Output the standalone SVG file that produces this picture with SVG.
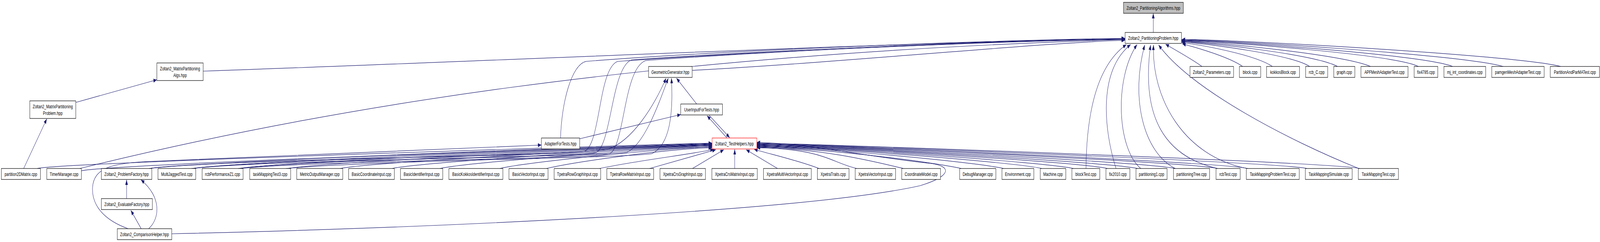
<svg xmlns="http://www.w3.org/2000/svg" width="6017" height="619" viewBox="0 0 6017 619" preserveAspectRatio="none" style="width:100%;height:100%">
<style>
.n rect{fill:#fff;stroke:#000;stroke-width:1.2}
.n text{font-family:"Liberation Sans",Arial,Helvetica,sans-serif;font-size:13px;text-anchor:middle;fill:#000}
.e path{fill:none;stroke:#191970;stroke-width:1.2;marker-end:url(#a)}
</style>
<defs>
<marker id="a" markerWidth="13" markerHeight="10" refX="13" refY="5" orient="auto" markerUnits="userSpaceOnUse"><path d="M0,0 L13,5 L0,10 z" fill="#191970"/></marker>
</defs>
<rect width="6017" height="619" fill="#fff"/>
<g id="edges" class="e">
<path d="M4337,83 L4337,34"/>
<path d="M764,182 C1800,158 3200,112 4231,99"/>
<path d="M285,262 L590,204"/>
<path d="M89,431 L176,304"/>
<path d="M300,431 C1200,280 2400,140 4231,101"/>
<path d="M2603,180 C3200,158 3900,110 4231,103"/>
<path d="M2108,353 C2112,260 2150,165 2204,157 C2800,125 3800,102 4231,98"/>
<path d="M560,431 C900,405 2100,400 2199,387 C2260,365 2250,175 2323,157 C2900,130 3800,104 4231,99"/>
<path d="M725,431 C1000,408 2150,405 2242,390 C2300,370 2300,170 2376,153 C2900,128 3800,103 4231,100"/>
<path d="M900,431 C1200,410 2200,408 2294,393 C2350,370 2345,175 2428,155 C2950,128 3800,104 4231,101"/>
<path d="M720,431 C1100,402 2150,398 2285,382 C2380,360 2460,270 2505,200"/>
<path d="M895,431 C1200,405 2250,400 2357,390 C2420,370 2470,280 2513,200"/>
<path d="M1075,431 C1400,410 2350,405 2452,393 C2520,370 2532,290 2525,200"/>
<path d="M2180,355 L2560,293"/>
<path d="M2620,266 L2544,200"/>
<path d="M2734,353 L2659,296"/>
<path d="M2667,295 L2744,352"/>
<path d="M482,585 C400,565 345,530 348,480 C352,430 420,417 560,413 C1200,395 1700,380 2036,371"/>
<path d="M559,585 C600,560 610,505 530,460"/>
<path d="M531,585 L492,538"/>
<path d="M476,508 L476,460"/>
<path d="M646,598 C1500,585 3000,545 3460,475 C3580,450 3580,425 3500,418 C3250,400 3050,368 2846,364"/>
<path d="M140,431 C240,415 2500,369 2678,366"/>
<path d="M306,437 C400,420 2500,370 2678,367"/>
<path d="M565,431 C665,415 2500,371 2678,368"/>
<path d="M730,431 C830,415 2500,372 2678,369"/>
<path d="M905,431 C1005,415 2500,373 2678,370"/>
<path d="M1085,431 C1185,415 2500,374 2678,371"/>
<path d="M1280,431 C1380,415 2500,375 2678,372"/>
<path d="M1475,431 C1575,415 2500,376 2678,373"/>
<path d="M1655,431 C1755,415 2500,378 2678,375"/>
<path d="M1880,431 C1980,415 2500,379 2678,376"/>
<path d="M2055,431 C2155,415 2500,381 2678,378"/>
<path d="M2255,431 C2400,410 2600,395 2684,382"/>
<path d="M2443,431 L2692,383"/>
<path d="M2604,431 L2722,383"/>
<path d="M2763,431 L2763,382"/>
<path d="M2924,431 L2806,383"/>
<path d="M3080,431 C3000,410 2900,395 2836,382"/>
<path d="M3222,431 C3122,415 3100,381 2846,378"/>
<path d="M3397,431 C3297,415 3100,380 2846,377"/>
<path d="M3615,431 C3515,415 3100,379 2846,376"/>
<path d="M3774,431 C3674,415 3100,378 2846,375"/>
<path d="M3918,431 C3818,415 3100,377 2846,374"/>
<path d="M4037,431 C3937,415 3100,376 2846,373"/>
<path d="M4165,431 C4065,415 3100,375 2846,372"/>
<path d="M4278,431 C4178,415 3100,374 2846,371"/>
<path d="M4419,431 C4319,415 3100,373 2846,370"/>
<path d="M4579,431 C4479,415 3100,372 2846,369"/>
<path d="M4693,431 C4593,415 3100,371 2846,368"/>
<path d="M4915,431 C4815,415 3100,370 2846,367"/>
<path d="M5114,431 C5014,415 3100,369 2846,366"/>
<path d="M4084,431 C4086,300 4120,170 4236,114"/>
<path d="M4197,431 C4150,330 4130,180 4252,114"/>
<path d="M4290,431 C4200,380 4190,200 4276,114"/>
<path d="M4420,431 C4300,390 4250,250 4305,115"/>
<path d="M4578,431 C4380,400 4290,300 4327,115"/>
<path d="M4690,431 C4450,400 4330,250 4338,115"/>
<path d="M5110,431 C4850,360 4480,230 4357,115"/>
<path d="M4520,170 C4480,150 4420,128 4383,113"/>
<path d="M4673,170 C4620,145 4500,122 4446,112"/>
<path d="M4785,170 C4720,140 4520,115 4444,109"/>
<path d="M4925,170 C4860,140 4550,113 4444,107"/>
<path d="M5030,170 C4950,140 4560,110 4444,106"/>
<path d="M5154,170 C5050,140 4580,108 4444,105"/>
<path d="M5334,170 C5250,140 4600,106 4444,104"/>
<path d="M5463,170 C5350,140 4600,104 4444,103"/>
<path d="M5653,170 C5500,140 4600,102 4444,102"/>
<path d="M5869,170 C5700,140 4600,100 4444,101"/>
</g>
<g id="n_alg" class="n"><rect x="4225" y="6" width="225" height="28" style="fill:#bfbfbf"/><text x="4337.5" y="25">Zoltan2_PartitioningAlgorithms.hpp</text></g>
<g id="n_pp" class="n"><rect x="4231" y="83" width="212" height="28"/><text x="4337" y="102">Zoltan2_PartitioningProblem.hpp</text></g>
<g id="n_mpa" class="n"><rect x="590" y="161" width="174" height="45"/><text x="677" y="180">Zoltan2_MatrixPartitioning</text><text x="677" y="197">Algs.hpp</text></g>
<g id="n_gg" class="n"><rect x="2439" y="170" width="164" height="28"/><text x="2521" y="189">GeometricGenerator.hpp</text></g>
<g id="n_params" class="n"><rect x="4475" y="170" width="164" height="28"/><text x="4557" y="189">Zoltan2_Parameters.cpp</text></g>
<g id="n_block" class="n"><rect x="4661" y="170" width="80" height="28"/><text x="4701" y="189">block.cpp</text></g>
<g id="n_kblock" class="n"><rect x="4763" y="170" width="124" height="28"/><text x="4825" y="189">kokkosBlock.cpp</text></g>
<g id="n_rcbc" class="n"><rect x="4910" y="170" width="83" height="28"/><text x="4951.5" y="189">rcb_C.cpp</text></g>
<g id="n_graph" class="n"><rect x="5016" y="170" width="79" height="28"/><text x="5055.5" y="189">graph.cpp</text></g>
<g id="n_apf" class="n"><rect x="5118" y="170" width="177" height="28"/><text x="5206.5" y="189">APFMeshAdapterTest.cpp</text></g>
<g id="n_fix4785" class="n"><rect x="5318" y="170" width="89" height="28"/><text x="5362.5" y="189">fix4785.cpp</text></g>
<g id="n_mjint" class="n"><rect x="5430" y="170" width="157" height="28"/><text x="5508.5" y="189">mj_int_coordinates.cpp</text></g>
<g id="n_pamgen" class="n"><rect x="5610" y="170" width="197" height="28"/><text x="5708.5" y="189">pamgenMeshAdapterTest.cpp</text></g>
<g id="n_parma" class="n"><rect x="5830" y="170" width="185" height="28"/><text x="5922.5" y="189">PartitionAndParMATest.cpp</text></g>
<g id="n_mpp" class="n"><rect x="112" y="258" width="173" height="45"/><text x="198.5" y="277">Zoltan2_MatrixPartitioning</text><text x="198.5" y="294">Problem.hpp</text></g>
<g id="n_uift" class="n"><rect x="2560" y="266" width="157" height="28"/><text x="2638.5" y="285">UserInputForTests.hpp</text></g>
<g id="n_aft" class="n"><rect x="2036" y="353" width="144" height="28"/><text x="2108" y="372">AdapterForTests.hpp</text></g>
<g id="n_th" class="n"><rect x="2678" y="353" width="168" height="28" style="stroke:#f00"/><text x="2762" y="372">Zoltan2_TestHelpers.hpp</text></g>
<g id="n_p2d" class="n"><rect x="5" y="431" width="147" height="28"/><text x="78.5" y="450">partition2DMatrix.cpp</text></g>
<g id="n_timer" class="n"><rect x="176" y="431" width="130" height="28"/><text x="241" y="450">TimerManager.cpp</text></g>
<g id="n_pfac" class="n"><rect x="381" y="431" width="190" height="28"/><text x="476" y="450">Zoltan2_ProblemFactory.hpp</text></g>
<g id="n_mj" class="n"><rect x="594" y="431" width="142" height="28"/><text x="665" y="450">MultiJaggedTest.cpp</text></g>
<g id="n_rcbperf" class="n"><rect x="760" y="431" width="154" height="28"/><text x="837" y="450">rcbPerformanceZ1.cpp</text></g>
<g id="n_tm3" class="n"><rect x="939" y="431" width="154" height="28"/><text x="1016" y="450">taskMappingTest3.cpp</text></g>
<g id="n_metric" class="n"><rect x="1116" y="431" width="173" height="28"/><text x="1202.5" y="450">MetricOutputManager.cpp</text></g>
<g id="n_bci" class="n"><rect x="1311" y="431" width="172" height="28"/><text x="1397" y="450">BasicCoordinateInput.cpp</text></g>
<g id="n_bii" class="n"><rect x="1506" y="431" width="159" height="28"/><text x="1585.5" y="450">BasicIdentifierInput.cpp</text></g>
<g id="n_bkii" class="n"><rect x="1688" y="431" width="203" height="28"/><text x="1789.5" y="450">BasicKokkosIdentifierInput.cpp</text></g>
<g id="n_bvi" class="n"><rect x="1914" y="431" width="147" height="28"/><text x="1987.5" y="450">BasicVectorInput.cpp</text></g>
<g id="n_trgi" class="n"><rect x="2084" y="431" width="175" height="28"/><text x="2171.5" y="450">TpetraRowGraphInput.cpp</text></g>
<g id="n_trmi" class="n"><rect x="2282" y="431" width="176" height="28"/><text x="2370" y="450">TpetraRowMatrixInput.cpp</text></g>
<g id="n_xcgi" class="n"><rect x="2482" y="431" width="171" height="28"/><text x="2567.5" y="450">XpetraCrsGraphInput.cpp</text></g>
<g id="n_xcmi" class="n"><rect x="2677" y="431" width="171" height="28"/><text x="2762.5" y="450">XpetraCrsMatrixInput.cpp</text></g>
<g id="n_xmvi" class="n"><rect x="2871" y="431" width="180" height="28"/><text x="2961" y="450">XpetraMultiVectorInput.cpp</text></g>
<g id="n_xtr" class="n"><rect x="3074" y="431" width="119" height="28"/><text x="3133.5" y="450">XpetraTraits.cpp</text></g>
<g id="n_xvi" class="n"><rect x="3216" y="431" width="152" height="28"/><text x="3292" y="450">XpetraVectorInput.cpp</text></g>
<g id="n_cm" class="n"><rect x="3391" y="431" width="146" height="28"/><text x="3464" y="450">CoordinateModel.cpp</text></g>
<g id="n_dbg" class="n"><rect x="3609" y="431" width="136" height="28"/><text x="3677" y="450">DebugManager.cpp</text></g>
<g id="n_env" class="n"><rect x="3768" y="431" width="120" height="28"/><text x="3828" y="450">Environment.cpp</text></g>
<g id="n_mach" class="n"><rect x="3912" y="431" width="96" height="28"/><text x="3960" y="450">Machine.cpp</text></g>
<g id="n_blockt" class="n"><rect x="4031" y="431" width="105" height="28"/><text x="4083.5" y="450">blockTest.cpp</text></g>
<g id="n_fix2010" class="n"><rect x="4159" y="431" width="90" height="28"/><text x="4204" y="450">fix2010.cpp</text></g>
<g id="n_part1" class="n"><rect x="4272" y="431" width="117" height="28"/><text x="4330.5" y="450">partitioning1.cpp</text></g>
<g id="n_parttree" class="n"><rect x="4413" y="431" width="136" height="28"/><text x="4481" y="450">partitioningTree.cpp</text></g>
<g id="n_rcbt" class="n"><rect x="4573" y="431" width="91" height="28"/><text x="4618.5" y="450">rcbTest.cpp</text></g>
<g id="n_tmpt" class="n"><rect x="4687" y="431" width="199" height="28"/><text x="4786.5" y="450">TaskMappingProblemTest.cpp</text></g>
<g id="n_tms" class="n"><rect x="4909" y="431" width="176" height="28"/><text x="4997" y="450">TaskMappingSimulate.cpp</text></g>
<g id="n_tmt" class="n"><rect x="5108" y="431" width="151" height="28"/><text x="5183.5" y="450">TaskMappingTest.cpp</text></g>
<g id="n_evalf" class="n"><rect x="381" y="508" width="192" height="28"/><text x="477" y="527">Zoltan2_EvaluateFactory.hpp</text></g>
<g id="n_comph" class="n"><rect x="441" y="585" width="205" height="28"/><text x="543.5" y="604">Zoltan2_ComparisonHelper.hpp</text></g>
</svg>
